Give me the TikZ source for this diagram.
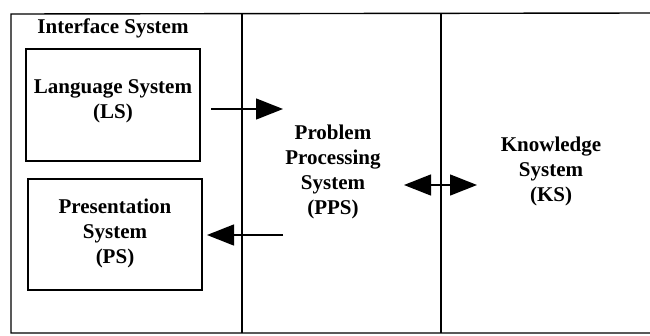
\documentclass[tikz,border=0pt]{standalone}
\usepackage{fontspec}
\setmainfont{Liberation Serif}
\usetikzlibrary{arrows.meta}
\tikzset{
	lbl/.style={font=\fontsize{21}{25}\selectfont\bfseries, align=center, inner sep=0pt},
	sysbox/.style={draw, line width=1.6pt, minimum width=174pt, inner sep=0pt},
	flow/.style={line width=1.4pt, -{Triangle[length=27pt,width=21pt]}},
}
\begin{document}
\begin{tikzpicture}[x=1pt,y=-1pt]
		\useasboundingbox (0,0) rectangle (650,335);
		% Frame and dividers
		\draw[line width=1.4pt] (650,13) -- (11,14) -- (11,333) -- (650,333);
		\draw[line width=1.4pt] (242,14) -- (242,333);
		\draw[line width=1.4pt] (441,13) -- (441,333);
		% Interface system
		\node[lbl] (is) at (113,28) {Interface System};
		\node[sysbox, minimum height=112pt] (ls) at (113,105) {};
		\node[lbl] (lstxt) at (113,101) {Language System\\(LS)};
		\node[sysbox, minimum height=111pt] (ps) at (115,234.5) {};
		\node[lbl] (pstxt) at (115,233) {Presentation\\System\\(PS)};
		% Other systems
		\node[lbl] (pps) at (333,172) {Problem\\Processing\\System\\(PPS)};
		\node[lbl] (ks) at (551,171) {Knowledge\\System\\(KS)};
		% Arrows
		\coordinate (lsout) at (211,109);
		\coordinate (lsin) at (283,109);
		\coordinate (psout) at (283,235);
		\coordinate (psin) at (207,235);
		\coordinate (ksl) at (404,185);
		\coordinate (ksr) at (477,185);
		\draw[flow] (lsout) -- (lsin);
		\draw[flow] (psout) -- (psin);
		\draw[flow, {Triangle[length=27pt,width=21pt]}-{Triangle[length=27pt,width=21pt]}] (ksl) -- (ksr);
	\end{tikzpicture}
\end{document}
